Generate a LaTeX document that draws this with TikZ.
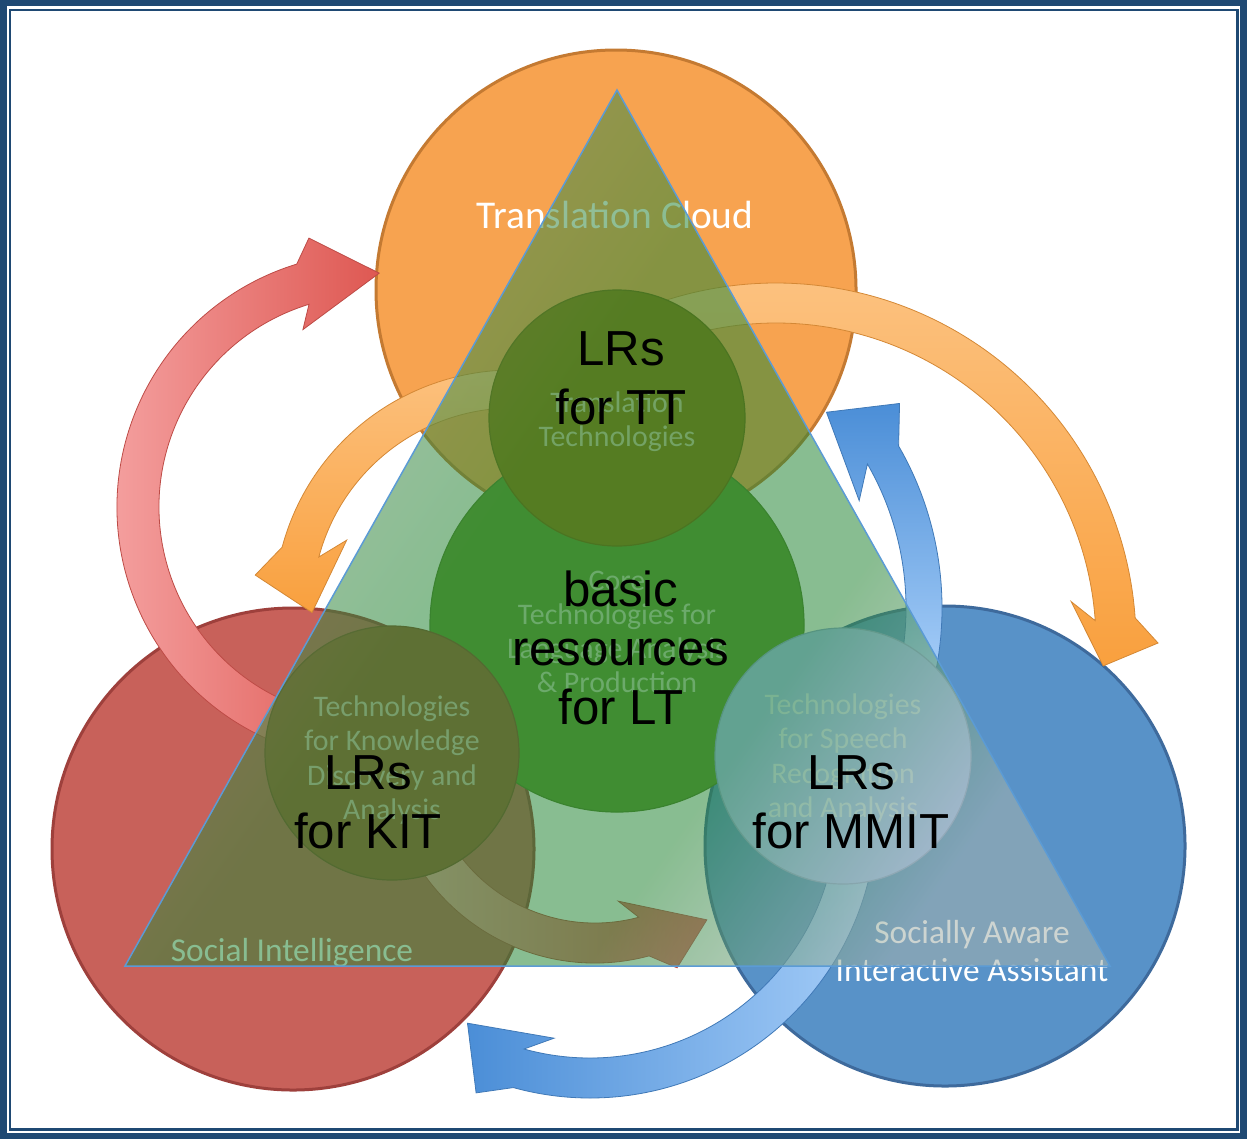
\documentclass[tikz,border=0pt]{standalone}
\usepackage{fontspec}
\setmainfont{Liberation Sans}
\newfontfamily\calib{Carlito}
\definecolor{frameblue}{RGB}{31,73,115}
\definecolor{orfill}{RGB}{247,163,80}
\definecolor{ordraw}{RGB}{196,122,50}
\definecolor{redfill}{RGB}{200,97,90}
\definecolor{reddraw}{RGB}{158,64,60}
\definecolor{bluefill}{RGB}{88,146,200}
\definecolor{bluedraw}{RGB}{62,106,156}
\definecolor{redA}{RGB}{246,165,165}
\definecolor{redB}{RGB}{222,88,82}
\definecolor{orA}{RGB}{252,195,130}
\definecolor{orB}{RGB}{249,160,62}
\definecolor{blA}{RGB}{165,205,248}
\definecolor{blB}{RGB}{75,142,215}
\definecolor{trifill}{RGB}{40,135,55}
\definecolor{trilight}{RGB}{165,178,172}
\definecolor{trisoft}{RGB}{100,145,100}
\definecolor{triline}{RGB}{91,155,213}
\definecolor{corefill}{RGB}{95,150,45}
\definecolor{ttfill}{RGB}{140,112,10}
\definecolor{kfill}{RGB}{160,85,50}
\definecolor{sfill}{RGB}{170,195,255}
\pgfdeclarehorizontalshading{trishade}{100bp}{color(0bp)=(trisoft); color(25bp)=(trisoft); color(44bp)=(trifill); color(62bp)=(trifill); color(75bp)=(trilight); color(100bp)=(trilight)}
% #1 centre "x,y", #2 R, #3 half band width, #4 half head width,
% #5 start angle, #6 head base angle, #7 wing tilt, #8 tip "angle:radius", #9 style
\newcommand\ringarrow[9]{%
  \pgfmathsetmacro\raOut{#2+#3}%
  \pgfmathsetmacro\raIn{#2-#3}%
  \pgfmathsetmacro\raHo{#2+#4}%
  \pgfmathsetmacro\raHi{#2-#4}%
  \pgfmathsetmacro\raWo{#6+#7}%
  \pgfmathsetmacro\raWi{#6-#7}%
  \path[#9] ([shift={(#1)}]#5:\raOut) arc[start angle=#5, end angle=#6, radius=\raOut]
     -- ([shift={(#1)}]\raWo:\raHo) -- ([shift={(#1)}]#8)
     -- ([shift={(#1)}]\raWi:\raHi) -- ([shift={(#1)}]#6:\raIn)
     arc[start angle=#6, end angle=#5, radius=\raIn] -- cycle;}
\tikzset{
  bigdisc/.style={line width=0.3mm},
  innerdisc/.style={line width=0.12mm},
  redarrow/.style={shade, left color=redA, right color=redB, draw=redB!85!black, line width=0.08mm},
  orarrow/.style={shade, top color=orA, bottom color=orB, draw=orB!85!black, line width=0.08mm},
  blarrowup/.style={shade, top color=blB, bottom color=blA, draw=blB!85!black, line width=0.08mm},
  blarrowleft/.style={shade, left color=blB, right color=blA, draw=blB!85!black, line width=0.08mm},
  bigtext/.style={font=\calib\fontsize{9.5}{10.8}\selectfont, text=white, align=center},
  smalltext/.style={font=\calib\fontsize{8.5}{9.7}\selectfont, text=white, text opacity=0.6, align=center},
  blacktext/.style={font=\fontsize{14}{16.8}\selectfont, text=black, align=center},
}
\begin{document}
\begin{tikzpicture}[x=0.1mm,y=0.1mm]
\useasboundingbox (0,0) rectangle (1247,-1139);
% frame
\fill[frameblue] (0,0) rectangle (1247,-1139);
\fill[white] (7,-6) rectangle (1240,-1133);
\draw[frameblue, line width=0.22mm] (9.6,-9.6) rectangle (1237.4,-1129.4);
% big circles
\filldraw[bigdisc, fill=orfill, draw=ordraw] (616,-290) circle (240);
\filldraw[bigdisc, fill=redfill, draw=reddraw] (293,-849) circle (241);
\filldraw[bigdisc, fill=bluefill, draw=bluedraw] (945,-846) circle (240);
% arrows
\ringarrow{371,-507}{233}{21}{43}{255}{107}{-4}{88:234}{redarrow}
\ringarrow{776,-643}{340}{20}{42}{110}{4}{-4}{-4:328}{orarrow}
\ringarrow{590,-811}{267}{20}{37}{-10}{-105.5}{-6.5}{-120:245}{blarrowleft}
\ringarrow{513,-609}{220}{19}{40}{80}{165}{7.5}{181:201}{orarrow}
\ringarrow{595,-754}{189}{20}{40}{200}{285}{6}{304:200}{redarrow}
\ringarrow{618,-608}{306}{18}{42}{-12}{30}{6}{43.2:286}{blarrowup}
% inner circles
\filldraw[innerdisc, fill=corefill, draw=corefill!85!black] (617,-625) circle (187);
\filldraw[innerdisc, fill=ttfill, draw=ttfill!85!black] (617,-418) circle (128);
\filldraw[innerdisc, fill=kfill, draw=kfill!85!black] (392,-753) circle (127);
\filldraw[innerdisc, fill=sfill, draw=sfill!85!black] (843,-756) circle (128);
% white labels
\node[bigtext, font=\calib\fontsize{11.2}{13}\selectfont] (tcloud) at (615,-215) {Translation Cloud};
\node[bigtext] (social) at (292,-953) {Social Intelligence};
\node[bigtext] (aware) at (972,-951) {Socially Aware\\Interactive Assistant};
\node[smalltext] (transtech) at (617,-422) {Translation\\Technologies};
\node[smalltext] (coretech) at (617,-632) {Core\\Technologies for\\Language Analysis\\\& Production};
\node[smalltext] (ktech) at (392,-760) {Technologies\\for Knowledge\\Discovery and\\Analysis};
\node[smalltext] (stech) at (843,-758) {Technologies\\for Speech\\Recognition\\and Analysis};
% triangle
\shade[shading=trishade, shading angle=-35, fill opacity=0.55] (617,-90) -- (125,-966) -- (1110,-966) -- cycle;
\draw[triline, line width=0.15mm] (617,-90) -- (125,-966) -- (1110,-966) -- cycle;
% black labels
\node[blacktext] (lrtt) at (621,-378) {LRs\\for TT};
\node[blacktext] (basic) at (621,-648) {basic\\resources\\for LT};
\node[blacktext] (lrkit) at (368,-802) {LRs\\for KIT};
\node[blacktext] (lrmmit) at (851,-802) {LRs\\for MMIT};
\end{tikzpicture}
\end{document}
